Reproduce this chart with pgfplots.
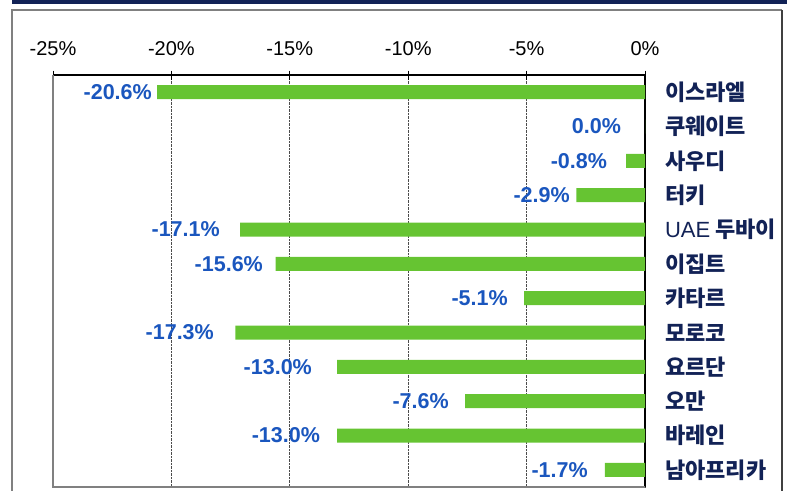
\documentclass[border=0pt]{standalone}
\usepackage{pgfplots}
\pgfplotsset{compat=1.18}
\usepackage{fontspec}
\setmainfont{Liberation Sans}
\newfontfamily\kr{Noto Sans CJK KR}
\definecolor{navy}{RGB}{18,34,86}
\definecolor{valblue}{RGB}{26,86,190}
\definecolor{bargreen}{RGB}{102,196,50}
\definecolor{framegray}{RGB}{128,128,128}
\begin{document}
\begin{tikzpicture}
\path[use as bounding box] (0pt,0pt) rectangle (794pt,-490pt);
\fill[navy] (12pt,2pt) rectangle (787pt,-4pt);
\draw[framegray, line width=1.3pt] (12pt,-540pt) -- (12pt,-10pt) -- (782pt,-10pt);
\draw[black!75, line width=1.6pt] (782pt,-10pt) -- (782pt,-540pt);
\begin{axis}[
  at={(53pt,-487pt)}, anchor=south west,
  scale only axis, width=592pt, height=412pt,
  xmin=-25, xmax=0, ymin=0.5, ymax=12.5,
  y dir=reverse,
  clip=false,
  axis x line*=top, axis y line*=right,
  axis line style={black, line width=1.3pt, -},
  xtick={-25,-20,-15,-10,-5,0},
  xticklabels={-25\%,-20\%,-15\%,-10\%,-5\%,0\%},
  xticklabel style={font=\fontsize{20}{22}\selectfont, text=black, yshift=11pt},
  x tick style={black, line width=1pt},
  tick align=center, major tick length=9pt,
  xmajorgrids, grid style={black!70, densely dotted, line width=0.8pt},
  ytick={1,...,12},
  yticklabels={이스라엘,쿠웨이트,사우디,터키,{\rmfamily\mdseries UAE} 두바이,이집트,카타르,모로코,요르단,오만,바레인,남아프리카},
  yticklabel style={font=\kr\bfseries\fontsize{22}{24}\selectfont, text=navy, anchor=west, xshift=12pt},
  y tick style={draw=none},
]
\addplot[xbar, bar width=14pt, fill=bargreen, draw=none] coordinates {
  (-20.6,1) (0,2) (-0.8,3) (-2.9,4) (-17.1,5) (-15.6,6)
  (-5.1,7) (-17.3,8) (-13.0,9) (-7.6,10) (-13.0,11) (-1.7,12)
};
\addplot[draw=none, mark=none, nodes near coords, point meta=explicit symbolic,
  nodes near coords align=horizontal,
  every node near coord/.append style={anchor=east, inner sep=0pt, text=valblue, font=\bfseries\fontsize{21.5}{23}\selectfont}]
  coordinates {
  (-20.82,1) [-20.6\%]
  (-1.01,2) [0.0\%]
  (-1.60,3) [-0.8\%]
  (-3.17,4) [-2.9\%]
  (-17.95,5) [-17.1\%]
  (-16.13,6) [-15.6\%]
  (-5.79,7) [-5.1\%]
  (-18.20,8) [-17.3\%]
  (-14.06,9) [-13.0\%]
  (-8.28,10) [-7.6\%]
  (-13.72,11) [-13.0\%]
  (-2.41,12) [-1.7\%]
};
\end{axis}
\draw[framegray, line width=2pt] (53pt,-75pt) -- (53pt,-487pt) -- (645pt,-487pt);
\end{tikzpicture}
\end{document}
